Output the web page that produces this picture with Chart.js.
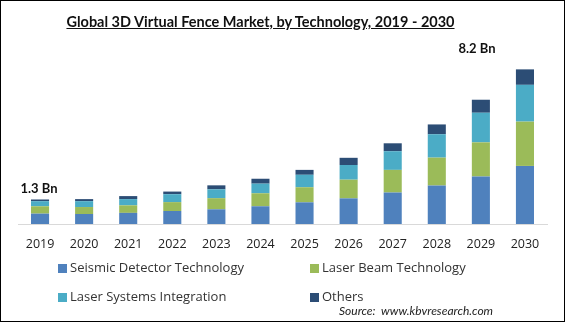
<!DOCTYPE html>
<html>
<head>
<meta charset="utf-8">
<script src="https://cdn.jsdelivr.net/npm/chart.js@4/dist/chart.umd.min.js"></script>
<style>
  html, body { margin: 0; padding: 0; background: #fff; }
  #wrap { position: relative; width: 565px; height: 322px; overflow: hidden; }
  #frame { position: absolute; left: 0; top: 0; width: 565px; height: 322px; box-sizing: border-box; border: 1px solid #000; pointer-events: none; }
  #title { position: absolute; left: 0; width: 521px; top: 13px; text-align: center; font: bold 14.5px Lato, sans-serif; color: #111; text-decoration: underline; }
  .leg { position: absolute; font: 13px "Open Sans", sans-serif; color: #333; white-space: nowrap; }
  .leg i { display: inline-block; width: 9px; height: 9px; margin-right: 3px; vertical-align: -1px; }
  #source { position: absolute; left: 339px; top: 303px; font: italic 12px Lato, sans-serif; color: #222; }
</style>
</head>
<body>
<div id="wrap">
  <canvas id="chart" width="565" height="322"></canvas>
  <div id="title">Global 3D Virtual Fence Market, by Technology, 2019 - 2030</div>
  <div id="legend"></div>
  <div id="source">Source:&nbsp; www.kbvresearch.com</div>
  <div id="frame"></div>
</div>
<script>
// Market size in USD billion, stacked by technology
const years = ['2019', '2020', '2021', '2022', '2023', '2024', '2025', '2026', '2027', '2028', '2029', '2030'];
const seismic = [0.55, 0.53, 0.59, 0.69, 0.78, 0.94, 1.15, 1.36, 1.67, 2.04, 2.52, 3.08];
const laserBeam = [0.39, 0.37, 0.40, 0.47, 0.59, 0.69, 0.80, 0.99, 1.20, 1.48, 1.81, 2.35];
const laserSystems = [0.27, 0.31, 0.33, 0.42, 0.47, 0.51, 0.66, 0.78, 0.99, 1.24, 1.57, 1.95];
const others = [0.09, 0.11, 0.16, 0.14, 0.21, 0.26, 0.26, 0.38, 0.42, 0.52, 0.69, 0.82];

const seriesNames = ['Seismic Detector Technology', 'Laser Beam Technology', 'Laser Systems Integration', 'Others'];
const seriesColors = ['#4f81bd', '#9bbb59', '#4bacc6', '#2c4d75'];
const seriesData = [seismic, laserBeam, laserSystems, others];

// legend laid out in two columns under the axis
const legendSpots = [[58, 258], [310, 258], [58, 287], [310, 287]];
const legendEl = document.getElementById('legend');
seriesNames.forEach((name, i) => {
    const d = document.createElement('div');
    d.className = 'leg';
    d.style.left = legendSpots[i][0] + 'px';
    d.style.top = legendSpots[i][1] + 'px';
    d.innerHTML = '<i style="background:' + seriesColors[i] + '"></i>' + name;
    legendEl.appendChild(d);
});

// total labels on the first and last bar
const totalLabels = {
    id: 'totalLabels',
    afterDatasetsDraw(chart) {
        const ctx = chart.ctx;
        const xs = chart.scales.x;
        const ys = chart.scales.y;
        const spots = [
            { i: 0, dx: -1, dy: -11 },
            { i: years.length - 1, dx: -48, dy: -21 }
        ];
        ctx.save();
        ctx.font = 'bold 13px Lato, sans-serif';
        ctx.fillStyle = '#111';
        ctx.textAlign = 'center';
        ctx.textBaseline = 'middle';
        spots.forEach(s => {
            const total = seriesData.reduce((sum, arr) => sum + arr[s.i], 0);
            const x = xs.getPixelForValue(s.i) + s.dx;
            const y = ys.getPixelForValue(total) + s.dy;
            ctx.fillText(total.toFixed(1) + ' Bn', x, y);
        });
        ctx.restore();
    }
};

new Chart(document.getElementById('chart'), {
    type: 'bar',
    data: {
        labels: years,
        datasets: seriesNames.map((name, i) => ({
            label: name,
            data: seriesData[i],
            backgroundColor: seriesColors[i],
            borderWidth: 0,
            barPercentage: 0.41,
            categoryPercentage: 1
        }))
    },
    options: {
        responsive: false,
        animation: false,
        layout: { padding: { left: 18, right: 18, top: 59, bottom: 57 } },
        plugins: {
            legend: { display: false },
            tooltip: { enabled: false }
        },
        scales: {
            x: {
                stacked: true,
                grid: { display: false, drawTicks: false },
                border: { display: true, color: '#d9d9d9', width: 1 },
                ticks: {
                    color: '#222',
                    padding: 13,
                    font: { family: '"Open Sans", sans-serif', size: 12.5 }
                }
            },
            y: {
                stacked: true,
                display: false,
                min: 0,
                max: 8.75
            }
        }
    },
    plugins: [totalLabels]
});
</script>
</body>
</html>
